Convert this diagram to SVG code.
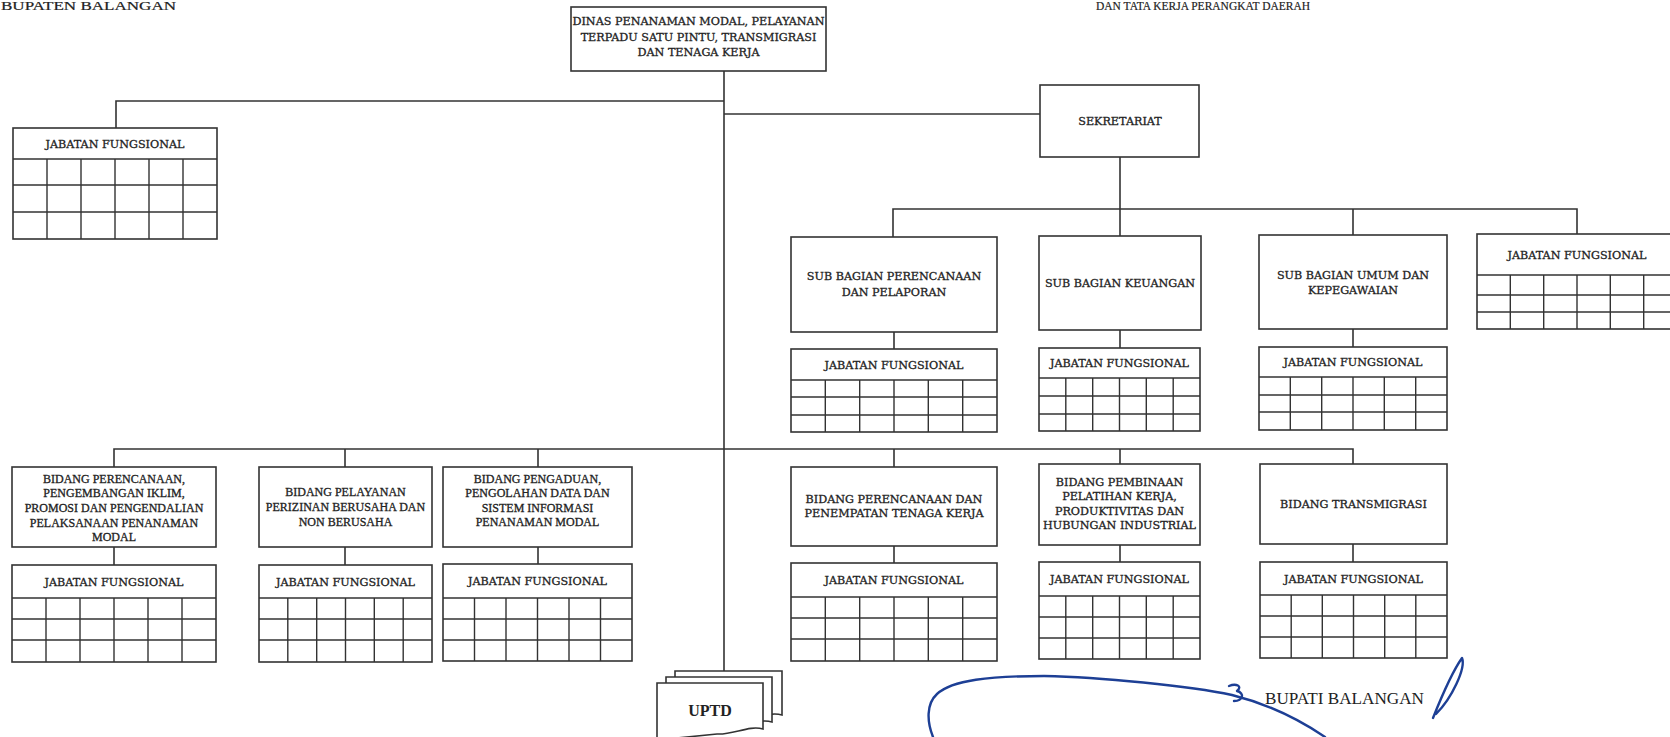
<svg xmlns="http://www.w3.org/2000/svg" width="1670" height="737" viewBox="0 0 1670 737">
<style>
.box{fill:#fff;stroke:#333;stroke-width:1.6}
.grid{fill:none;stroke:#333;stroke-width:1.4}
.conn{fill:none;stroke:#333;stroke-width:1.6}
.t{font-family:"DejaVu Serif",serif;font-size:11.2px;fill:#222;stroke:#222;stroke-width:0.3;text-anchor:middle}
.r{font-family:"Liberation Serif",serif;font-size:12px;fill:#222;stroke:#222;stroke-width:0.3;text-anchor:middle}
.hd{font-family:"Liberation Serif",serif;font-size:12px;fill:#222;stroke:#222;stroke-width:0.2}
.sig{fill:none;stroke:#1d3f95;stroke-width:2.4;stroke-linecap:round;stroke-linejoin:round}
</style>
<rect width="1670" height="737" fill="#fff"/>
<text class="hd" x="1" y="10" textLength="175" lengthAdjust="spacingAndGlyphs">BUPATEN BALANGAN</text>
<text class="hd" x="1096" y="10" textLength="214" lengthAdjust="spacingAndGlyphs">DAN TATA KERJA PERANGKAT DAERAH</text>

<g id="connectors">
<path class="conn" d="M724,71 V671"/>
<path class="conn" d="M724,101 H116 V128"/>
<path class="conn" d="M724,114 H1040"/>
<path class="conn" d="M1120,157 V236"/>
<path class="conn" d="M893,237 V209 H1577 V234 M1353,209 V235"/>
<path class="conn" d="M894,332 V349 M1120,330 V348 M1353,329 V347"/>
<path class="conn" d="M114,467 V449 H1353 V464 M345,449 V467 M538,449 V467 M894,449 V467 M1120,449 V464"/>
<path class="conn" d="M114,547 V565 M345,547 V565 M538,547 V564 M894,546 V563 M1120,545 V562 M1353,544 V562"/>
</g>

<g id="dinas">
<rect class="box" x="571" y="7" width="255" height="64"/>
<text class="t" x="698.5" y="25">DINAS PENANAMAN MODAL, PELAYANAN</text>
<text class="t" x="698.5" y="40.5">TERPADU SATU PINTU, TRANSMIGRASI</text>
<text class="t" x="698.5" y="56">DAN TENAGA KERJA</text>
</g>

<g id="sekretariat">
<rect class="box" x="1040" y="85" width="159" height="72"/>
<text class="t" x="1120" y="125">SEKRETARIAT</text>
</g>

<g id="jf-top-left">
<rect class="box" x="13" y="128" width="204" height="111"/>
<path class="grid" d="M13,159 H217 M13,185 H217 M13,212 H217 M47,159 V239 M81,159 V239 M115,159 V239 M149,159 V239 M183,159 V239"/>
<text class="t" x="115" y="148">JABATAN FUNGSIONAL</text>
</g>

<g id="sb-perencanaan">
<rect class="box" x="791" y="237" width="206" height="95"/>
<text class="t" x="894" y="280">SUB BAGIAN PERENCANAAN</text>
<text class="t" x="894" y="296">DAN PELAPORAN</text>
</g>
<g id="sb-keuangan">
<rect class="box" x="1039" y="236" width="162" height="94"/>
<text class="t" x="1120" y="287">SUB BAGIAN KEUANGAN</text>
</g>
<g id="sb-umum">
<rect class="box" x="1259" y="235" width="188" height="94"/>
<text class="t" x="1353" y="279">SUB BAGIAN UMUM DAN</text>
<text class="t" x="1353" y="294">KEPEGAWAIAN</text>
</g>
<g id="jf-sekretariat">
<rect class="box" x="1477" y="234" width="200" height="95"/>
<path class="grid" d="M1477,275 H1677 M1477,295 H1677 M1477,312 H1677 M1510.3,275 V329 M1543.7,275 V329 M1577,275 V329 M1610.3,275 V329 M1643.7,275 V329"/>
<text class="t" x="1577" y="258.5">JABATAN FUNGSIONAL</text>
</g>

<g id="jf-sb-perencanaan">
<rect class="box" x="791" y="349" width="206" height="83"/>
<path class="grid" d="M791,380 H997 M791,397 H997 M791,415 H997 M825.3,380 V432 M859.7,380 V432 M894,380 V432 M928.3,380 V432 M962.7,380 V432"/>
<text class="t" x="894" y="368.5">JABATAN FUNGSIONAL</text>
</g>
<g id="jf-sb-keuangan">
<rect class="box" x="1039" y="348" width="161" height="83"/>
<path class="grid" d="M1039,378 H1200 M1039,396 H1200 M1039,414 H1200 M1065.8,378 V431 M1092.7,378 V431 M1119.5,378 V431 M1146.3,378 V431 M1173.2,378 V431"/>
<text class="t" x="1119.5" y="367">JABATAN FUNGSIONAL</text>
</g>
<g id="jf-sb-umum">
<rect class="box" x="1259" y="347" width="188" height="83"/>
<path class="grid" d="M1259,377 H1447 M1259,395 H1447 M1259,412 H1447 M1290.3,377 V430 M1321.7,377 V430 M1353,377 V430 M1384.3,377 V430 M1415.7,377 V430"/>
<text class="t" x="1353" y="366">JABATAN FUNGSIONAL</text>
</g>

<g id="bidang-1">
<rect class="box" x="12" y="467" width="204" height="80"/>
<text class="r" x="114" y="482.5">BIDANG PERENCANAAN,</text>
<text class="r" x="114" y="497">PENGEMBANGAN IKLIM,</text>
<text class="r" x="114" y="512">PROMOSI DAN PENGENDALIAN</text>
<text class="r" x="114" y="526.5">PELAKSANAAN PENANAMAN</text>
<text class="r" x="114" y="541">MODAL</text>
</g>
<g id="bidang-2">
<rect class="box" x="259" y="467" width="173" height="80"/>
<text class="r" x="345.5" y="496">BIDANG PELAYANAN</text>
<text class="r" x="345.5" y="511">PERIZINAN BERUSAHA DAN</text>
<text class="r" x="345.5" y="526">NON BERUSAHA</text>
</g>
<g id="bidang-3">
<rect class="box" x="443" y="467" width="189" height="80"/>
<text class="r" x="537.5" y="483">BIDANG PENGADUAN,</text>
<text class="r" x="537.5" y="497">PENGOLAHAN DATA DAN</text>
<text class="r" x="537.5" y="512">SISTEM INFORMASI</text>
<text class="r" x="537.5" y="526">PENANAMAN MODAL</text>
</g>
<g id="bidang-4">
<rect class="box" x="791" y="467" width="206" height="79"/>
<text class="t" x="894" y="503">BIDANG PERENCANAAN DAN</text>
<text class="t" x="894" y="517">PENEMPATAN TENAGA KERJA</text>
</g>
<g id="bidang-5">
<rect class="box" x="1039" y="464" width="161" height="81"/>
<text class="t" x="1119.5" y="486">BIDANG PEMBINAAN</text>
<text class="t" x="1119.5" y="500">PELATIHAN KERJA,</text>
<text class="t" x="1119.5" y="515">PRODUKTIVITAS DAN</text>
<text class="t" x="1119.5" y="529">HUBUNGAN INDUSTRIAL</text>
</g>
<g id="bidang-6">
<rect class="box" x="1260" y="464" width="187" height="80"/>
<text class="t" x="1353.5" y="508">BIDANG TRANSMIGRASI</text>
</g>

<g id="jf-bidang-1">
<rect class="box" x="12" y="565" width="204" height="97"/>
<path class="grid" d="M12,598 H216 M12,619 H216 M12,640 H216 M46,598 V662 M80,598 V662 M114,598 V662 M148,598 V662 M182,598 V662"/>
<text class="t" x="114" y="585.5">JABATAN FUNGSIONAL</text>
</g>
<g id="jf-bidang-2">
<rect class="box" x="259" y="565" width="173" height="97"/>
<path class="grid" d="M259,598 H432 M259,619 H432 M259,640 H432 M287.8,598 V662 M316.7,598 V662 M345.5,598 V662 M374.3,598 V662 M403.2,598 V662"/>
<text class="t" x="345.5" y="585.5">JABATAN FUNGSIONAL</text>
</g>
<g id="jf-bidang-3">
<rect class="box" x="443" y="564" width="189" height="97"/>
<path class="grid" d="M443,598 H632 M443,619 H632 M443,640 H632 M474.5,598 V661 M506,598 V661 M537.5,598 V661 M569,598 V661 M600.5,598 V661"/>
<text class="t" x="537.5" y="585">JABATAN FUNGSIONAL</text>
</g>
<g id="jf-bidang-4">
<rect class="box" x="791" y="563" width="206" height="98"/>
<path class="grid" d="M791,597 H997 M791,618 H997 M791,639 H997 M825.3,597 V661 M859.7,597 V661 M894,597 V661 M928.3,597 V661 M962.7,597 V661"/>
<text class="t" x="894" y="584">JABATAN FUNGSIONAL</text>
</g>
<g id="jf-bidang-5">
<rect class="box" x="1039" y="562" width="161" height="97"/>
<path class="grid" d="M1039,596 H1200 M1039,617 H1200 M1039,638 H1200 M1065.8,596 V659 M1092.7,596 V659 M1119.5,596 V659 M1146.3,596 V659 M1173.2,596 V659"/>
<text class="t" x="1119.5" y="583">JABATAN FUNGSIONAL</text>
</g>
<g id="jf-bidang-6">
<rect class="box" x="1260" y="562" width="187" height="96"/>
<path class="grid" d="M1260,595 H1447 M1260,616 H1447 M1260,637 H1447 M1291.2,595 V658 M1322.3,595 V658 M1353.5,595 V658 M1384.7,595 V658 M1415.8,595 V658"/>
<text class="t" x="1353.5" y="582.5">JABATAN FUNGSIONAL</text>
</g>

<g id="uptd">
<path class="box" d="M675,671 H782 V715 C768,711 752,721 736,720 L675,722 Z"/>
<path class="box" d="M666,677 H772 V722 C758,718 742,728 726,727 L666,729 Z"/>
<path class="box" d="M657,683 H763 V729 C749,725 733,735 717,734 L657,740 Z"/>
<text x="710" y="716" font-family="Liberation Serif, serif" font-size="16" font-weight="bold" fill="#222" text-anchor="middle">UPTD</text>
</g>

<g id="bupati">
<path class="sig" d="M933,737 C927,722 926,704 937,694 C952,680 990,676 1044,676 C1100,677 1190,686 1232,695 C1268,704 1300,720 1325,737"/>
<path class="sig" stroke-width="1.8" d="M1229,686 C1236,683 1243,686 1237,691 C1245,693 1243,701 1234,701"/>
<text x="1265" y="704" font-family="Liberation Serif, serif" font-size="17.5" fill="#222" textLength="159" lengthAdjust="spacingAndGlyphs">BUPATI BALANGAN</text>
<path class="sig" stroke-width="2.2" d="M1433,718 C1441,698 1452,672 1462,658 C1466,668 1452,698 1436,714"/>
</g>
</svg>
